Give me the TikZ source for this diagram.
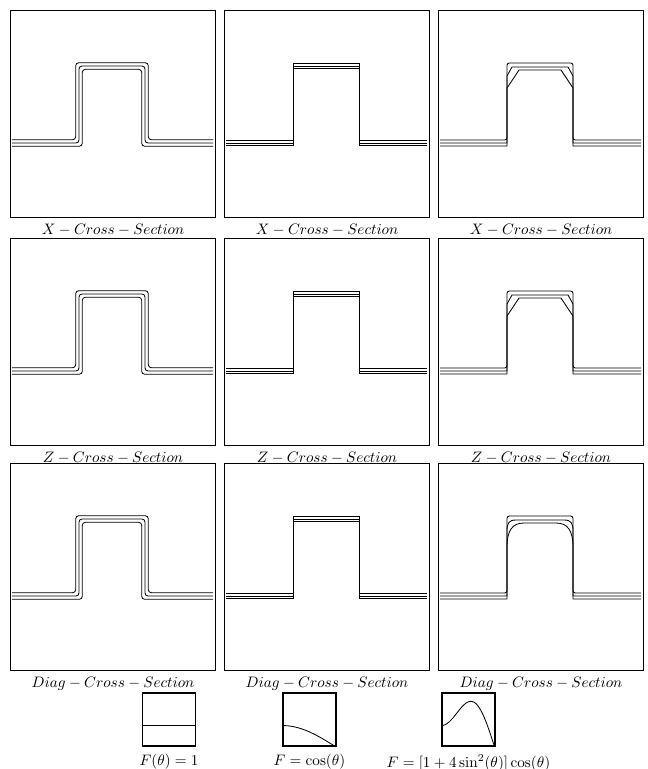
\documentclass[tikz,border=0pt]{standalone}
\usepackage{amsmath, amssymb}
\usepackage{tikz}
\usetikzlibrary{positioning}

\begin{document}
\begin{tikzpicture}[x=0.66pt, y=-0.66pt,
  panel/.style={draw, line width=0.7pt, minimum width=135.3pt, minimum height=136.6pt, inner sep=0pt, anchor=north west},
  caption/.style={inner sep=0pt},
  prof/.style={line width=0.55pt},
  fbox/.style={draw, line width=0.7pt, minimum size=35pt, inner sep=0pt}]
  \useasboundingbox (0,0) rectangle (647,769);

  % panels and captions
  \foreach \row/\ry/\cs in {1/10/X, 2/238/Z, 3/463/Diag}
    \foreach \col/\cx in {1/10, 2/224, 3/438} {
      \node[panel] (p\row\col) at (\cx,\ry) {};
      \node[caption, below=4pt of p\row\col] (c\row\col) {$\cs - Cross - Section$};
    }

  % F = 1
  \foreach \row in {1,2,3}
    \foreach \e in {-3.3,0,3.3}
      \draw[prof, rounded corners=2pt, shift={(p\row1.north west)}]
        (2,{133-\e}) -- ({69-\e},{133-\e}) -- ({69-\e},{56-\e}) -- ({135+\e},{56-\e})
        -- ({135+\e},{133-\e}) -- (203,{133-\e});

  % F = cos
  \foreach \row in {1,2,3}
    \foreach \e in {-2.5,0,2.5}
      \draw[prof, shift={(p\row2.north west)}]
        (2,{133-\e}) -- (69,{133-\e}) -- (69,{56-\e}) -- (135,{56-\e})
        -- (135,{133-\e}) -- (203,{133-\e});

  % F = [1+4sin^2]cos
  \foreach \row in {1,2} {
    \draw[prof, rounded corners=1.5pt, shift={(p\row3.north west)}]
      (2,130) -- (69,130) -- (69,53) -- (135,53) -- (135,130) -- (203,130);
    \draw[prof, shift={(p\row3.north west)}]
      (2,133) -- (69,133) -- (69,66) -- (74,57) -- (130,57) -- (135,66) -- (135,133) -- (203,133);
    \draw[prof, shift={(p\row3.north west)}]
      (2,136) -- (69,136) -- (69,78) -- (81,60) -- (123,60) -- (135,78) -- (135,136) -- (203,136);
  }
  \draw[prof, rounded corners=1.5pt, shift={(p33.north west)}]
    (2,130) -- (69,130) -- (69,53) -- (135,53) -- (135,130) -- (203,130);
  \draw[prof, shift={(p33.north west)}]
    (2,133) -- (69,133) -- (69,68) .. controls (69,60) and (71,57) .. (78,57) -- (126,57)
    .. controls (133,57) and (135,60) .. (135,68) -- (135,133) -- (203,133);
  \draw[prof, shift={(p33.north west)}]
    (2,136) -- (69,136) -- (69,84) .. controls (69,68) and (74,60) .. (86,60) -- (118,60)
    .. controls (130,60) and (135,68) .. (135,84) -- (135,136) -- (203,136);

  % weighting functions
  \node[fbox] (f1) at (169,719.5) {};
  \node[fbox] (f2) at (309.5,719.5) {};
  \node[fbox] (f3) at (468.5,719.5) {};
  \node[caption, below=5pt of f1] (l1) {$F(\theta) = 1$};
  \node[caption, below=5pt of f2] (l2) {$F = \cos(\theta)$};
  \node[caption, below=5pt of f3] (l3) {$F = [1 + 4\sin^2(\theta)]\cos(\theta)$};

  \draw[prof, shift={(f1.south west)}] (0,-21) -- (53,-21);
  \draw[prof, shift={(f2.south west)}, domain=0:53, samples=40]
    plot (\x, {-21*cos(\x*90/53)});
  \draw[prof, shift={(f3.south west)}, domain=0:53, samples=60]
    plot (\x, {-21*(1+4*sin(\x*90/53)^2)*cos(\x*90/53)});
\end{tikzpicture}
\end{document}
